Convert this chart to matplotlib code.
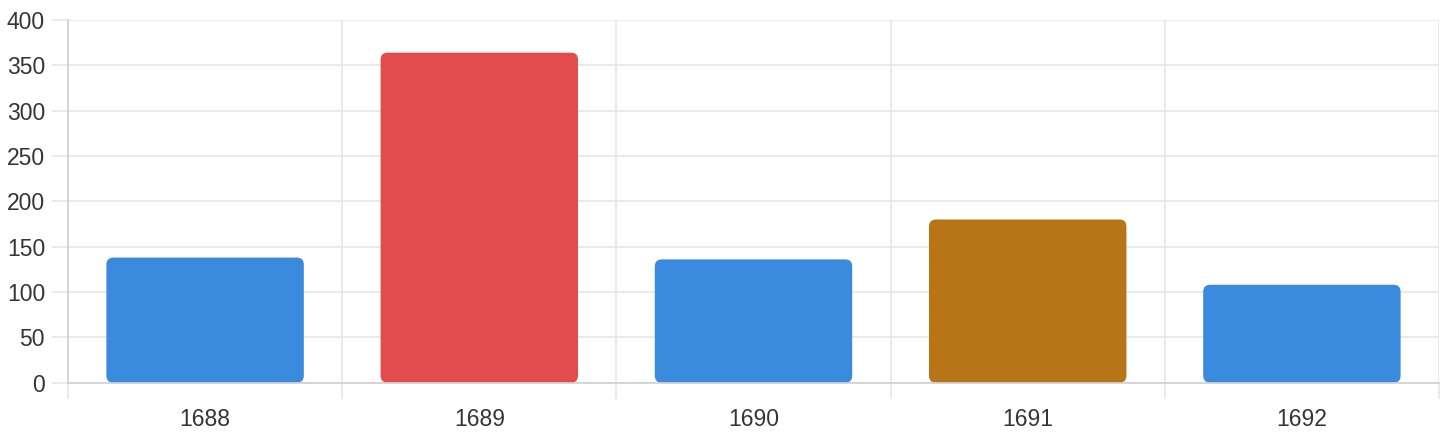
import matplotlib
matplotlib.use("Agg")
import matplotlib.pyplot as plt
from matplotlib.patches import FancyBboxPatch
import numpy as np

years = ["1688", "1689", "1690", "1691", "1692"]
counts = [138, 364, 136, 180, 108]
bar_colors = ["#3A8BDD", "#E34C4C", "#3A8BDD", "#B87518", "#3A8BDD"]
y_ticks = [0, 50, 100, 150, 200, 250, 300, 350, 400]

plt.rcParams['font.family'] = ['Liberation Sans', 'DejaVu Sans']

W, H, DPI = 1440, 440, 100
fig = plt.figure(figsize=(W / DPI, H / DPI), dpi=DPI)
left, right, top, bottom = 68, 1439, 20, 382.7
ax = fig.add_axes([left / W, 1 - bottom / H, (right - left) / W, (bottom - top) / H])

n = len(years)
ax.set_xlim(-0.5, n - 0.5)
ax.set_ylim(0, 400)

# rounded bars (chart.js style, 0.8 * 0.9 of category width)
bar_w = 0.72
radius_px = 7
px_per_x = (right - left) / n
px_per_y = (bottom - top) / 400
aspect = px_per_x / px_per_y
r = radius_px / px_per_x
x = np.arange(n)
for xi, val, col in zip(x, counts, bar_colors):
    patch = FancyBboxPatch((xi - bar_w / 2, 0), bar_w, val,
                           boxstyle=f"round,pad=0,rounding_size={r}",
                           mutation_aspect=aspect, facecolor=col,
                           edgecolor="none", zorder=3)
    ax.add_patch(patch)

grid_c = "#e6e6e6"
axis_c = "#cfcfcf"
text_c = "#353535"
tick_pt = 16 * 72 / DPI

ax.set_yticks(y_ticks)
ax.set_yticklabels([str(v) for v in y_ticks])
ax.set_xticks(x)
ax.set_xticklabels(years)
ax.set_xticks(np.arange(n + 1) - 0.5, minor=True)

ax.grid(axis="y", which="major", color=grid_c, linewidth=1.2, zorder=0)
ax.grid(axis="x", which="minor", color=grid_c, linewidth=1.2, zorder=0)
ax.set_axisbelow(True)

ax.tick_params(axis="y", which="major", length=tick_pt, width=1.2, color=grid_c,
               pad=5, labelsize=16.5, labelcolor=text_c)
ax.tick_params(axis="x", which="major", length=0, pad=7 + tick_pt,
               labelsize=16.5, labelcolor=text_c)
ax.tick_params(axis="x", which="minor", length=tick_pt, width=1.2, color=grid_c)

for s in ["top", "right"]:
    ax.spines[s].set_visible(False)
ax.spines["left"].set_color(axis_c)
ax.spines["bottom"].set_color(axis_c)
ax.spines["left"].set_linewidth(1.2)
ax.spines["bottom"].set_linewidth(1.2)
ax.spines["bottom"].set_zorder(4)

fig.savefig("out.png", dpi=DPI, facecolor="white")
